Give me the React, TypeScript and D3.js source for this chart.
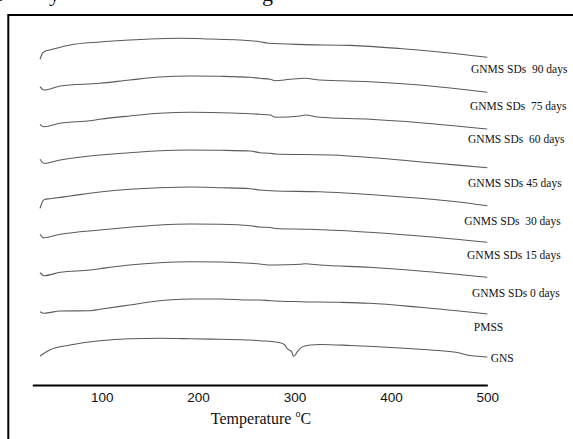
import React, { useEffect, useRef } from "react";
import * as d3 from "d3";

type Pt = [number, number];

// Temperature (°C) vs heat flow (arbitrary, stacked units)
const gnms90: Pt[] = [[36,325.7],[39,332.3],[41,333.7],[46,335],[67,340],[98,343],[129,345],[150,346],[181,346.7],[212,346],[243,345],[264,343.3],[273,341.7],[311,340.4],[358,339.6],[409,336.5],[461,332],[500,327.7]];
const gnms75: Pt[] = [[36,298.3],[40,295],[57,299],[98,301.7],[129,305],[160,308],[192,309],[223,308.7],[254,307.7],[264,306.7],[275,305.7],[280,304.3],[295,305.7],[311,306.7],[326,305],[378,303.3],[430,300],[500,292.7]];
const gnms60: Pt[] = [[36,260.7],[40,258.3],[57,261.7],[88,264.3],[98,265.7],[129,269],[160,271.7],[192,272.7],[223,272.3],[254,271.3],[264,270.7],[275,270],[280,267.7],[306,269],[311,270],[326,267.7],[378,265.7],[430,262.3],[500,256]];
const gnms45: Pt[] = [[36,225.7],[40,221.7],[57,225],[98,230],[129,232.3],[160,234.3],[192,235],[223,234.7],[254,234],[264,232.3],[275,231.7],[280,231],[337,230],[389,226.7],[441,222.3],[500,217.3]];
const gnms30: Pt[] = [[36,176.7],[39,184],[41,185.7],[46,186.3],[67,189],[98,193],[129,195.7],[160,197.3],[192,198],[223,197.3],[254,196.3],[264,195],[275,194.3],[280,194],[326,193.3],[358,191.7],[409,188.3],[461,184],[500,179.3]];
const gnms15: Pt[] = [[36,150.7],[40,147.3],[57,150.7],[98,155],[129,157.7],[160,160],[192,161],[223,160.7],[254,159.3],[264,158],[275,157.5],[280,156.5],[316,155.7],[368,153.3],[430,149],[500,142.7]];
const gnms0: Pt[] = [[36,112.3],[40,109.3],[57,112.7],[88,115],[98,116.3],[129,120],[160,122.3],[192,123.3],[223,123],[254,121.7],[264,121],[275,120],[280,120],[306,120.7],[311,121.3],[326,120],[378,117.7],[430,114],[500,107.7]];
const pmss: Pt[] = [[36,73.3],[40,71.7],[57,74],[88,74.3],[98,75.7],[129,80],[160,84.3],[192,86],[223,86],[254,85],[264,85],[275,84.3],[306,83.3],[347,82.7],[378,81.7],[430,77.7],[500,71]];
const gns: Pt[] = [[36,29],[46,35],[67,40],[98,44.3],[129,46.3],[160,46.7],[192,46.3],[223,45.7],[254,45],[264,44.3],[285,42.3],[290,40],[292,36.7],[297,33.3],[299,28.5],[303,33.3],[306,36.7],[311,39],[317,40],[327,40.5],[358,39.5],[409,37],[441,35],[469,32.5],[479,30],[493,28.5],[500,28]];

const seriesNames = ["GNMS SDs  90 days","GNMS SDs  75 days","GNMS SDs  60 days","GNMS SDs 45 days","GNMS SDs  30 days","GNMS SDs 15 days","GNMS SDs 0 days","PMSS","GNS"];
const seriesData = [gnms90, gnms75, gnms60, gnms45, gnms30, gnms15, gnms0, pmss, gns];
// label anchor in data units (temperature, heat flow)
const labelT = [483, 482, 480, 480, 476, 479, 484, 486, 503.5];
const labelV = [316, 279, 245.7, 202.3, 164.3, 130, 92.5, 58.5, 27.3];

const xTicks = [100, 200, 300, 400, 500];
const xDomain: [number, number] = [28, 500];
const yDomain: [number, number] = [0, 370];

export default function App() {
  const axisRef = useRef<SVGGElement>(null);
  const x = d3.scaleLinear().domain(xDomain).range([32.3, 487.3]);
  const y = d3.scaleLinear().domain(yDomain).range([385, 15]);
  const line = d3.line<Pt>().x(d => x(d[0])).y(d => y(d[1])).curve(d3.curveMonotoneX);

  useEffect(() => {
    if (!axisRef.current) return;
    const g = d3.select(axisRef.current);
    g.selectAll("*").remove();
    g.call(d3.axisBottom(x).tickValues(xTicks).tickSize(0).tickSizeOuter(0).tickPadding(7).tickFormat(d3.format("d")) as any);
    g.select(".domain").attr("stroke", "#000").attr("stroke-width", 1.8);
    g.selectAll(".tick text").attr("font-family", "'Liberation Sans', Arial, sans-serif").attr("font-size", 13.5).attr("fill", "#111");
  }, []);

  return (
    <svg width={573} height={439} style={{ position: "absolute", left: 0, top: 0, background: "#fff" }}>
      <rect x={0} y={0} width={573} height={439} fill="#fff" />
      <g fontFamily="'Liberation Serif', 'Times New Roman', serif" fontSize={22} fill="#111">
        <text x={-4} y={1}>t</text>
        <text x={49} y={1}>y</text>
        <text x={262} y={1}>g</text>
      </g>
      <rect x={8.3} y={15} width={600} height={500} fill="none" stroke="#000" strokeWidth={2} />
      {seriesData.map((s, i) => (
        <path key={i} d={line(s) || ""} fill="none" stroke="#5a5a5a" strokeWidth={1.1} />
      ))}
      <g fontFamily="'Liberation Serif', 'Times New Roman', serif" fontSize={11.5} fill="#111">
        {seriesNames.map((n, i) => (
          <text key={i} x={x(labelT[i])} y={y(labelV[i]) + 4} style={{ whiteSpace: "pre" }}>{n}</text>
        ))}
      </g>
      <g ref={axisRef} transform={`translate(0,${y(0)})`} />
      <text x={261} y={424} textAnchor="middle" fontFamily="'Liberation Serif', 'Times New Roman', serif" fontSize={16} fill="#111">
        Temperature <tspan dy={-7} fontSize={10}>o</tspan><tspan dy={7}>C</tspan>
      </text>
    </svg>
  );
}
